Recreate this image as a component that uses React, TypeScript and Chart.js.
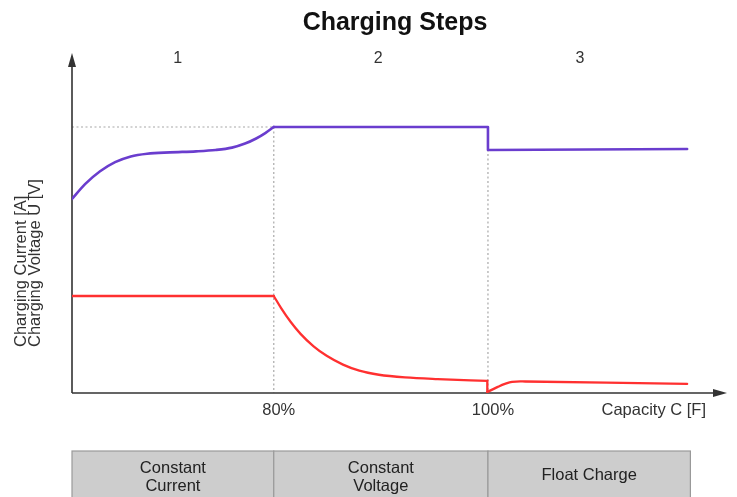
import React, { useEffect, useRef } from "react";
import { Chart, registerables } from "chart.js";

Chart.register(...registerables);

// x: capacity progress (axis units, 0..100 across the drawn axis), y: relative level (0..100)
// Charging voltage
const voltageRiseX = [0, 2.0, 4.3, 6.6, 9.0, 11.5, 15.0, 19.0, 22.0, 24.5, 26.5, 28.2, 29.6, 30.9];
const voltageRiseY = [57.4, 61.8, 65.6, 68.3, 70.0, 70.8, 71.2, 71.5, 71.9, 72.6, 73.8, 75.3, 76.9, 78.7];
const voltageHoldX = [30.9, 63.7, 63.7, 94.2];
const voltageHoldY = [78.7, 78.7, 71.9, 72.2];

// Charging current
const currentFlatX = [0, 30.9];
const currentFlatY = [28.7, 28.7];
const currentTaperX = [30.9, 32.0, 33.5, 35.0, 37.0, 39.0, 41.5, 44.0, 47.0, 51.0, 56.0, 63.6];
const currentTaperY = [28.7, 25.2, 21.0, 17.5, 13.8, 11.0, 8.4, 6.6, 5.4, 4.6, 4.1, 3.6];
const currentDropX = [63.6, 63.6];
const currentDropY = [3.6, 0.3];
const currentFloatX = [63.6, 65.2, 66.3, 67.4, 69.4, 94.2];
const currentFloatY = [0.3, 1.8, 2.7, 3.3, 3.4, 2.7];

const stepBounds = [0, 30.9, 63.7, 94.7];
const stepNumbers = ["1", "2", "3"];
const stepNumberX = [16.2, 46.9, 77.8];
const phaseNames = [["Constant", "Current"], ["Constant", "Voltage"], ["Float Charge"]];
const tickValues = [30.9, 63.7];
const tickLabels = ["80%", "100%"];
const plateauLevel = 78.7;

const TITLE = "Charging Steps";
const Y_TITLE = ["Charging Current [A]", "Charging Voltage U [V]"];
const X_TITLE = "Capacity C [F]";

const FONT = "'Liberation Sans', Arial, Helvetica, sans-serif";
const VOLT = "#6a3dce";
const CURR = "#ff3030";

const pts = (xs: number[], ys: number[]) => xs.map((x, i) => ({ x, y: ys[i] }));

const decorPlugin = {
  id: "decor",
  beforeDatasetsDraw(chart: any) {
    const ctx = chart.ctx as CanvasRenderingContext2D;
    const xs = chart.scales.x;
    const ys = chart.scales.y;
    const area = chart.chartArea;
    const y0 = ys.getPixelForValue(0);
    const yPlat = ys.getPixelForValue(plateauLevel);
    ctx.save();
    ctx.strokeStyle = "#a8a8a8";
    ctx.lineWidth = 1.2;
    ctx.setLineDash([2, 2.5]);
    ctx.beginPath();
    ctx.moveTo(area.left, yPlat);
    ctx.lineTo(xs.getPixelForValue(tickValues[0]), yPlat);
    tickValues.forEach((v) => {
      const px = xs.getPixelForValue(v);
      ctx.moveTo(px, yPlat);
      ctx.lineTo(px, y0);
    });
    ctx.stroke();
    ctx.setLineDash([]);

    ctx.strokeStyle = "#333";
    ctx.fillStyle = "#333";
    ctx.lineWidth = 1.6;
    ctx.beginPath();
    ctx.moveTo(area.left, y0);
    ctx.lineTo(area.left, area.top + 8);
    ctx.moveTo(area.left, y0);
    ctx.lineTo(area.right - 8, y0);
    ctx.stroke();
    ctx.beginPath();
    ctx.moveTo(area.left, area.top - 2);
    ctx.lineTo(area.left - 4, area.top + 12);
    ctx.lineTo(area.left + 4, area.top + 12);
    ctx.closePath();
    ctx.fill();
    ctx.beginPath();
    ctx.moveTo(area.right + 2, y0);
    ctx.lineTo(area.right - 12, y0 - 4);
    ctx.lineTo(area.right - 12, y0 + 4);
    ctx.closePath();
    ctx.fill();
    ctx.restore();
  },
  afterDraw(chart: any) {
    const ctx = chart.ctx as CanvasRenderingContext2D;
    const xs = chart.scales.x;
    const ys = chart.scales.y;
    const y0 = ys.getPixelForValue(0);
    ctx.save();
    ctx.textAlign = "center";
    ctx.textBaseline = "middle";
    ctx.fillStyle = "#111";
    ctx.font = `bold 25px ${FONT}`;
    ctx.fillText(TITLE, 395, 23);

    ctx.fillStyle = "#333";
    ctx.font = `16px ${FONT}`;
    stepNumbers.forEach((s, i) => ctx.fillText(s, xs.getPixelForValue(stepNumberX[i]), 59));

    ctx.font = `16.5px ${FONT}`;
    tickLabels.forEach((t, i) => ctx.fillText(t, xs.getPixelForValue(tickValues[i]) + 5, y0 + 17));
    ctx.textAlign = "right";
    ctx.fillText(X_TITLE, 706, y0 + 17);

    ctx.save();
    ctx.translate(21, 347);
    ctx.rotate(-Math.PI / 2);
    ctx.textAlign = "left";
    ctx.font = `16.5px ${FONT}`;
    ctx.fillText(Y_TITLE[0], 0, 0);
    ctx.fillText(Y_TITLE[1], 0, 14);
    ctx.restore();

    const top = 451;
    const bottom = 500;
    for (let i = 0; i < phaseNames.length; i++) {
      const l = xs.getPixelForValue(stepBounds[i]);
      const r = xs.getPixelForValue(stepBounds[i + 1]);
      ctx.fillStyle = "#cdcdcd";
      ctx.fillRect(l, top, r - l, bottom - top);
      ctx.strokeStyle = "#9a9a9a";
      ctx.lineWidth = 1.2;
      ctx.strokeRect(l, top, r - l, bottom - top);
      ctx.fillStyle = "#222";
      ctx.font = `16.5px ${FONT}`;
      ctx.textAlign = "center";
      const lines = phaseNames[i];
      const cx = (l + r) / 2;
      if (lines.length === 1) {
        ctx.fillText(lines[0], cx, 475);
      } else {
        ctx.fillText(lines[0], cx, 468);
        ctx.fillText(lines[1], cx, 486);
      }
    }
    ctx.restore();
  },
};

export default function App() {
  const ref = useRef<HTMLCanvasElement | null>(null);
  useEffect(() => {
    if (!ref.current) return;
    const base = { pointRadius: 0, fill: false, borderCapStyle: "round" as const, borderJoinStyle: "round" as const };
    const chart = new Chart(ref.current, {
      type: "line",
      data: {
        datasets: [
          { ...base, label: "Voltage rise", data: pts(voltageRiseX, voltageRiseY), borderColor: VOLT, borderWidth: 2.6, cubicInterpolationMode: "monotone" },
          { ...base, label: "Voltage hold", data: pts(voltageHoldX, voltageHoldY), borderColor: VOLT, borderWidth: 2.6, tension: 0 },
          { ...base, label: "Current flat", data: pts(currentFlatX, currentFlatY), borderColor: CURR, borderWidth: 2.3, tension: 0 },
          { ...base, label: "Current taper", data: pts(currentTaperX, currentTaperY), borderColor: CURR, borderWidth: 2.3, cubicInterpolationMode: "monotone" },
          { ...base, label: "Current drop", data: pts(currentDropX, currentDropY), borderColor: CURR, borderWidth: 2.3, tension: 0 },
          { ...base, label: "Current float", data: pts(currentFloatX, currentFloatY), borderColor: CURR, borderWidth: 2.3, tension: 0.4 },
        ],
      },
      options: {
        animation: false,
        responsive: false,
        maintainAspectRatio: false,
        devicePixelRatio: 1,
        layout: { padding: { left: 72, right: 12, top: 55, bottom: 104 } },
        scales: {
          x: { type: "linear", min: 0, max: 100, display: false },
          y: { type: "linear", min: 0, max: 100, display: false },
        },
        plugins: {
          legend: { display: false },
          title: { display: false },
          tooltip: { enabled: false },
        },
      },
      plugins: [decorPlugin],
    });
    return () => chart.destroy();
  }, []);
  return (
    <div style={{ position: "absolute", left: 0, top: 0, width: 737, height: 497, background: "#fff" }}>
      <canvas ref={ref} width={737} height={497} style={{ width: 737, height: 497 }} />
    </div>
  );
}
